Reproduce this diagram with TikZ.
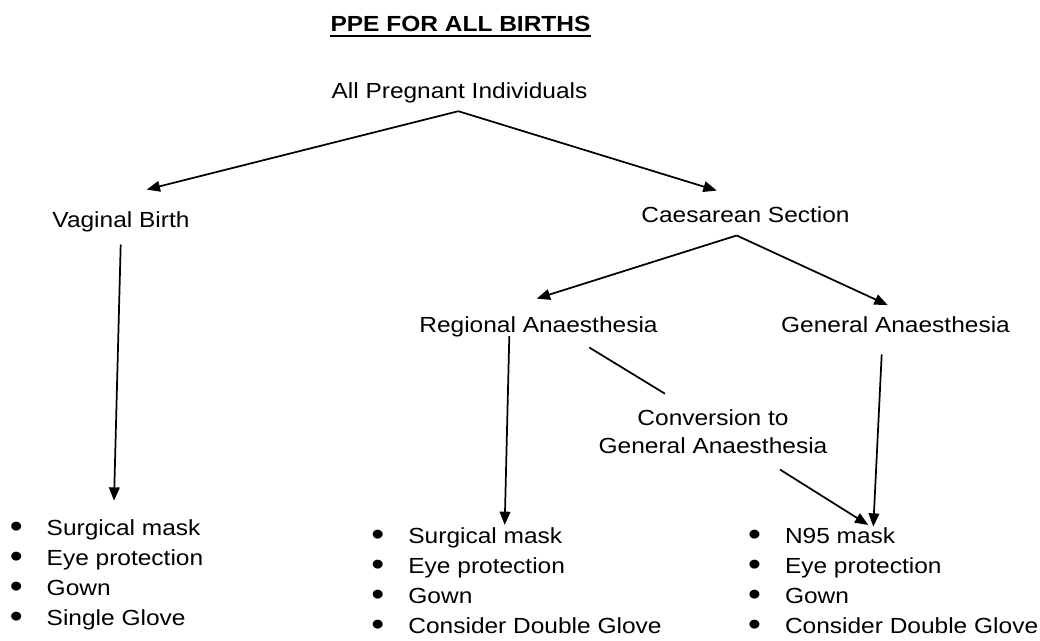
\documentclass[tikz,border=0pt]{standalone}
\usepackage{fontspec}
\setmainfont{Liberation Sans}[FakeStretch=1.12]
\usetikzlibrary{arrows.meta,calc}

\newcommand{\puce}{\makebox[27.7pt][l]{\raisebox{-1.4pt}{\scalebox{1.5}{\textbullet}}}}

\begin{document}
\begin{tikzpicture}[x=0.75pt,y=-0.75pt,
	lbl/.style={inner sep=0pt, anchor=base, font=\fontsize{16.4}{22.5}\selectfont},
	liste/.style={lbl, anchor=base west},
	fleche/.style={-{Triangle[length=10pt,width=8pt]}, line width=1.3pt},
	trait/.style={line width=1.3pt}]
	% Cadre
	\useasboundingbox (0,0) rectangle (1040,641);
	
	% Titre souligne
	\node[lbl, font=\fontsize{16.4}{22.5}\selectfont\bfseries] (titre) at (460.5,31.7) {PPE FOR ALL BIRTHS};
	\draw[line width=1.9pt] ($(titre.base west)+(0,4.3)$) -- ($(titre.base east)+(0,4.3)$);
	
	% Noeuds
	\node[lbl] (api) at (459.5,99) {All Pregnant Individuals};
	\node[lbl] (vb) at (121,228) {Vaginal Birth};
	\node[lbl] (cs) at (745.5,223) {Caesarean Section};
	\node[lbl] (ra) at (538.5,333) {Regional Anaesthesia};
	\node[lbl] (ga) at (895.5,333) {General Anaesthesia};
	\node[lbl, font=\fontsize{16.4}{21}\selectfont] (conv) at (713,426)
		{\begin{tabular}[t]{@{}c@{}}Conversion to\\General Anaesthesia\end{tabular}};
	
	% Listes
	\node[liste] (lvb) at (9.5,536) {\begin{tabular}[t]{@{}l@{}}
		\puce Surgical mask\\ \puce Eye protection\\ \puce Gown\\ \puce Single Glove\end{tabular}};
	\node[liste] (lra) at (371.2,544) {\begin{tabular}[t]{@{}l@{}}
		\puce Surgical mask\\ \puce Eye protection\\ \puce Gown\\ \puce Consider Double Glove\end{tabular}};
	\node[liste] (lga) at (747.8,544) {\begin{tabular}[t]{@{}l@{}}
		\puce N95 mask\\ \puce Eye protection\\ \puce Gown\\ \puce Consider Double Glove\end{tabular}};
	
	% Fleches
	\draw[fleche] ($(api.south)+(-1.2,7.4)$) -- ($(vb.north)+(25.7,-22.3)$);
	\draw[fleche] ($(api.south)+(-1.2,7.4)$) -- ($(cs.north)+(-28.8,-16.3)$);
	\draw[fleche] ($(cs.south)+(-8.8,12)$) -- ($(ra.north)+(-1.8,-18.3)$);
	\draw[fleche] ($(cs.south)+(-8.8,12)$) -- ($(ga.north)+(-7.8,-11.8)$);
	\draw[fleche] ($(vb.south)+(-0.3,11.7)$) -- ($(lvb.base west)+(104.5,-35.3)$);
	\draw[fleche] ($(ra.south)+(-29.2,-1.6)$) -- ($(lra.base west)+(133.5,-19)$);
	\draw[trait] ($(ra.south)+(50.8,9.7)$) -- ($(conv.north)+(-48,-12.4)$);
	\draw[fleche] ($(conv.south)+(67,6.9)$) -- ($(lga.base west)+(120.5,-19)$);
	\draw[fleche] ($(ga.south)+(-13.8,21)$) -- ($(lga.base west)+(125.5,-17.3)$);
\end{tikzpicture}
\end{document}
